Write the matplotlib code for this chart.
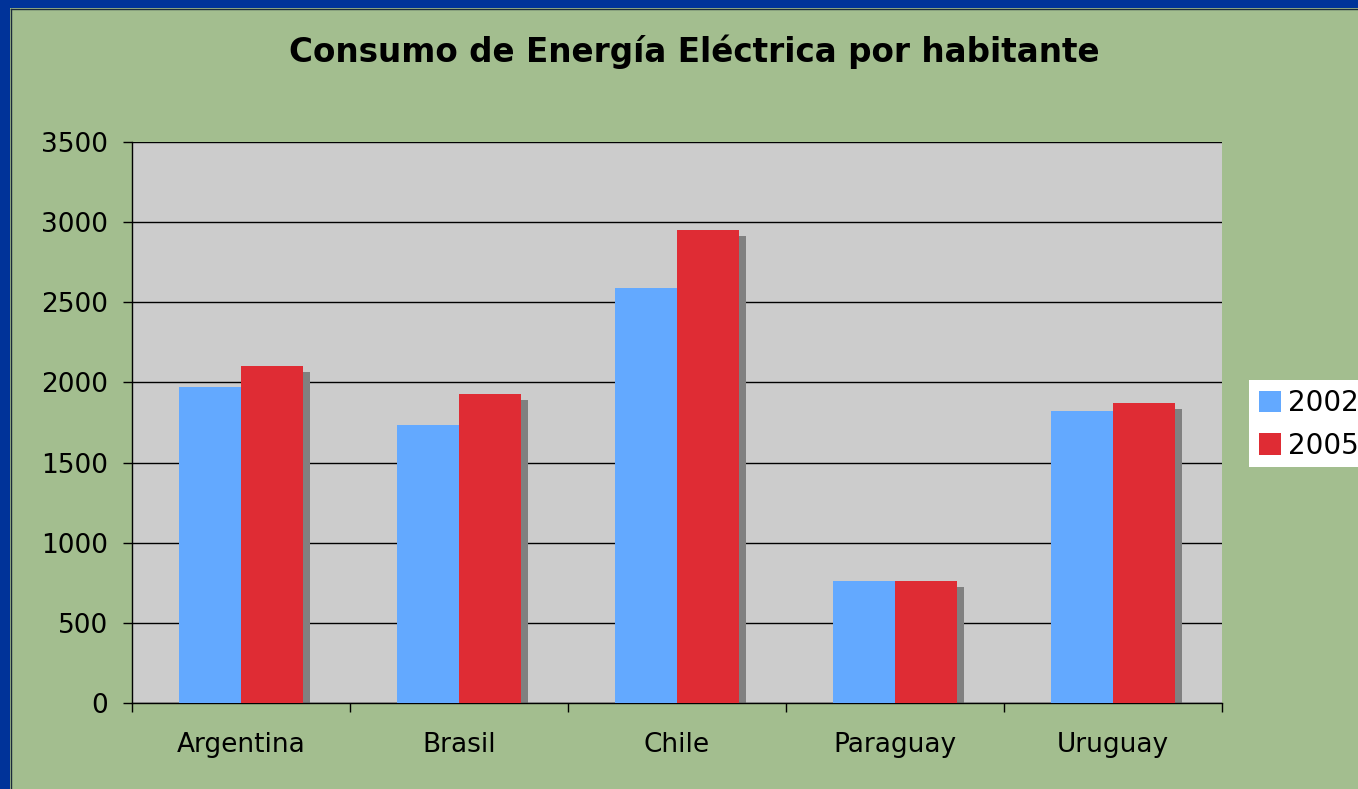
import numpy as np
import matplotlib
matplotlib.use("Agg")
import matplotlib.pyplot as plt
from matplotlib.patches import Rectangle, Patch
import matplotlib.transforms as mtransforms

countries = ["Argentina", "Brasil", "Chile", "Paraguay", "Uruguay"]
years = ["2002", "2005"]
consumo_2002 = [1970, 1735, 2590, 760, 1820]
consumo_2005 = [2100, 1930, 2950, 760, 1870]

blue = "#63A9FF"
red = "#DF2C34"
green = "#A3BE8F"
plot_gray = "#CCCCCC"

W, H = 1358, 789
fig = plt.figure(figsize=(W / 100, H / 100), dpi=100)
fig.patch.set_facecolor(green)

# dark blue frame on the left and top
fig.patches.append(Rectangle((0, 0), 10 / W, 1, transform=fig.transFigure,
                             facecolor="#003399", edgecolor="none", zorder=0))
fig.patches.append(Rectangle((0, 1 - 8 / H), 1, 8 / H, transform=fig.transFigure,
                             facecolor="#003399", edgecolor="none", zorder=0))
fig.lines.append(plt.Line2D([10.5 / W, 10.5 / W], [0, 1 - 8.5 / H],
                            transform=fig.transFigure, color="#1a2a3a", lw=1))
fig.lines.append(plt.Line2D([10.5 / W, 1], [1 - 8.5 / H, 1 - 8.5 / H],
                            transform=fig.transFigure, color="#1a2a3a", lw=1))

ax = fig.add_axes([132 / W, 86 / H, 1090 / W, 561 / H])
ax.set_facecolor(plot_gray)

x = np.arange(len(countries))
w = 0.285

# shadow behind bars (offset right and down)
shadow = mtransforms.offset_copy(ax.transData, fig=fig, x=7, y=-6, units="dots")
for vals, off in [(consumo_2002, -w / 2), (consumo_2005, w / 2)]:
    ax.bar(x + off, vals, width=w, color="#808080", transform=shadow, zorder=2,
           linewidth=0)

ax.bar(x - w / 2, consumo_2002, width=w, color=blue, zorder=3, linewidth=0, label=years[0])
ax.bar(x + w / 2, consumo_2005, width=w, color=red, zorder=3, linewidth=0, label=years[1])

ax.set_xlim(-0.5, len(countries) - 0.5)
ax.set_ylim(0, 3500)
ax.set_yticks(np.arange(0, 3501, 500))
ax.yaxis.grid(True, color="black", lw=1)
ax.set_axisbelow(True)

ax.set_xticks(x)
ax.set_xticklabels(countries)
ax.set_xticks(np.arange(-0.5, len(countries)), minor=True)
ax.tick_params(axis="x", which="major", length=0, pad=21, labelsize=19)
ax.tick_params(axis="x", which="minor", length=6.5, width=1, color="black")
ax.tick_params(axis="y", length=6.5, width=1, color="black", labelsize=19, pad=10.5)

for s in ["top", "right"]:
    ax.spines[s].set_visible(False)
for s in ["left", "bottom"]:
    ax.spines[s].set_color("black")
    ax.spines[s].set_linewidth(1)

fig.text(694 / W, 1 - 62 / H, "Consumo de Energía Eléctrica por habitante",
         ha="center", va="baseline", fontsize=23.5, fontweight="bold")

# legend box runs past the right edge of the picture
fig.patches.append(Rectangle((1249 / W, 1 - 467 / H), (W - 1249) / W, 87 / H,
                             transform=fig.transFigure, facecolor="white",
                             edgecolor="none", zorder=1))
handles = [Patch(facecolor=blue), Patch(facecolor=red)]
leg = fig.legend(handles, years, loc="upper left",
                 bbox_to_anchor=(1259 / W, 1 - 389 / H),
                 frameon=False, fontsize=20, handlelength=0.8, handleheight=0.8,
                 handletextpad=0.25, borderpad=0, labelspacing=0.53,
                 borderaxespad=0)
leg.set_zorder(5)

fig.savefig("out.png", dpi=100, facecolor=fig.get_facecolor())
